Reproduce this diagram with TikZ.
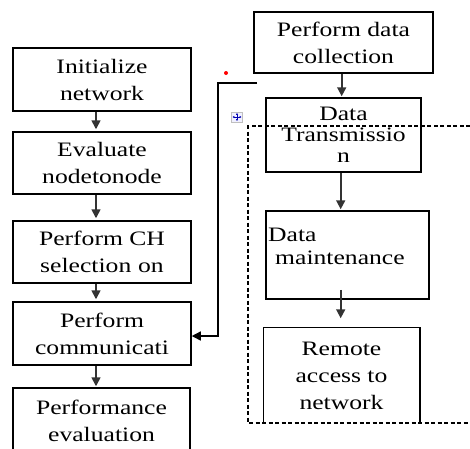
\documentclass[tikz,border=0pt]{standalone}
\usepackage{fontspec}
\setmainfont{Liberation Serif}[FakeStretch=1.25]
\usetikzlibrary{arrows.meta}
\begin{document}
\begin{tikzpicture}[x=1pt,y=-1pt,
  box/.style={draw, line width=1.5pt, inner sep=0pt, align=center,
    font=\fontsize{20.5}{27}\selectfont},
  txt/.style={inner sep=0pt, font=\fontsize{20.5}{27}\selectfont},
  arr/.style={draw=black!80, line width=1.7pt, -{Triangle[width=9pt,length=9pt]}},
  link/.style={draw=black, line width=1.4pt, -{Triangle[width=9pt,length=9pt]}},
  cell/.style={draw=black, line width=1.2pt, dash pattern=on 4pt off 2.5pt}]
\path[use as bounding box] (0,0) rectangle (470,448);

% left column
\node[box, minimum width=178pt, minimum height=63pt] (b1) at (102,79.5) {Initialize\\network};
\node[box, minimum width=178pt, minimum height=62pt] (b2) at (102,163) {Evaluate\\nodetonode};
\node[box, minimum width=178pt, minimum height=62pt] (b3) at (102,252) {Perform CH\\selection\,\,on};
\node[box, minimum width=178pt, minimum height=63pt] (b4) at (102,333.5) {Perform\\communicati};
\node[box, minimum width=177pt, minimum height=66pt] (b5) at (101.5,421) {Performance\\evaluation};

\draw[arr] (b1.south -| 96,0) -- ([yshift=2pt]b2.north -| 96,0);
\draw[arr] (b2.south -| 96,0) -- ([yshift=2pt]b3.north -| 96,0);
\draw[arr] (b3.south -| 96,0) -- ([yshift=2pt]b4.north -| 96,0);
\draw[arr] (b4.south -| 96,0) -- ([yshift=1pt]b5.north -| 96,0);

% right column
\node[box, minimum width=179pt, minimum height=61pt] (r1) at (343.5,42.5) {Perform data\\collection};
\node[box, minimum width=155pt, minimum height=74pt,
      font=\fontsize{20.5}{21}\selectfont] (r2) at (343.5,135) {Data\\Transmissio\\n};
\node[box, minimum width=163pt, minimum height=88pt] (r3) at (347.5,255) {};
\node[txt, anchor=north west, align=left, font=\fontsize{20.5}{23}\selectfont]
  (r3t) at (268,227.5) {Data\\\hspace*{7pt}maintenance};
\node[box, draw=none, minimum width=155pt, minimum height=95pt] (r4) at (341.5,375.5)
  {Remote\\access to\\network};
\draw[line width=1.5pt] (r4.south west) -- (r4.north west) -- (r4.north east) -- (r4.south east);

\draw[arr] (r1.south -| 341.7,0) -- ([yshift=1pt]r2.north -| 341.7,0);
\draw[arr] (r2.south -| 340.7,0) -- ([yshift=1pt]r3.north -| 340.7,0);
\draw[arr] ([yshift=10pt]r3.south -| 340.7,0) -- ([yshift=9pt]r4.north -| 340.7,0);

% dashed table cell border
\draw[cell] (470,126) -- (248,126) -- (248,423) -- (470,423);

% feedback connector
\coordinate (cs) at (257,83);
\draw[link] (cs) -- (218,83) |- ([yshift=-2.5pt]b4.east);

% red dot and table handle
\node[circle, fill=red, inner sep=0pt, minimum size=4pt] (dot) at (226,73) {};
\node[draw=gray!50, fill=blue!6, line width=0.6pt, minimum width=11pt, minimum height=10pt, inner sep=0pt] (handle) at (237,117) {};
\draw[blue!70!black, line width=0.6pt, {Latex[length=1.8pt,width=2.2pt]}-{Latex[length=1.8pt,width=2.2pt]}] (232.5,117) -- (241.5,117);
\draw[blue!70!black, line width=0.6pt, {Latex[length=1.8pt,width=2.2pt]}-{Latex[length=1.8pt,width=2.2pt]}] (237,113) -- (237,121);
\end{tikzpicture}
\end{document}
